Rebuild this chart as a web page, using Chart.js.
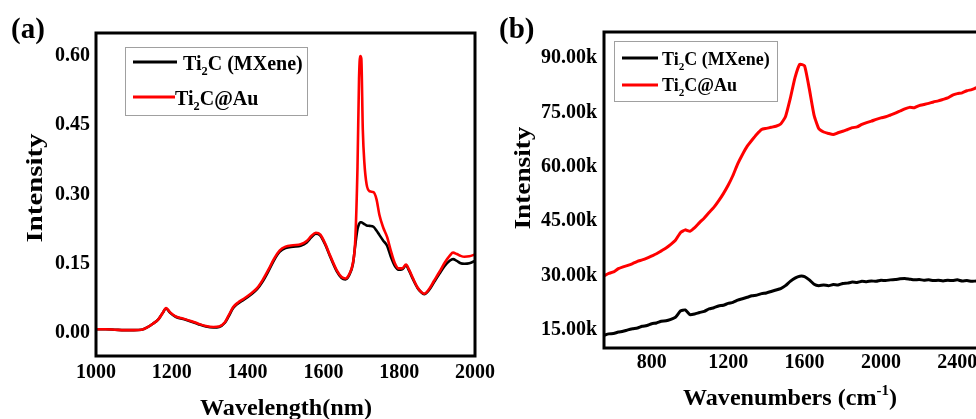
<!DOCTYPE html>
<html>
<head>
<meta charset="utf-8">
<script src="https://cdn.jsdelivr.net/npm/chart.js@4.4.1/dist/chart.umd.min.js"></script>
<style>
html, body { margin: 0; padding: 0; background: #fff; overflow: hidden; width: 976px; height: 419px; }
#chartA { position: absolute; left: 0; top: 0; }
#chartB { position: absolute; left: 490px; top: 0; }
</style>
</head>
<body>
<canvas id="chartA" width="510" height="419"></canvas>
<canvas id="chartB" width="510" height="419"></canvas>
<script>
// ---- panel (a): absorbance vs wavelength ----
const wavelength = [1000, 1025, 1050, 1075, 1100, 1120, 1135, 1150, 1165, 1175, 1185, 1195, 1210, 1230, 1250, 1270, 1290, 1310, 1325, 1340,
  1350, 1362, 1375, 1390, 1410, 1425, 1440, 1455, 1470, 1485, 1500, 1520, 1540, 1556, 1568, 1580, 1592, 1605, 1618, 1635,
  1648, 1658, 1668, 1678, 1684, 1690, 1694, 1697, 1700, 1704, 1708, 1714, 1722, 1732, 1740, 1748, 1758, 1768, 1778, 1788,
  1798, 1808, 1818, 1826, 1836, 1848, 1858, 1866, 1878, 1892, 1906, 1920, 1934, 1942, 1952, 1962, 1972, 1985, 2000];
const mxeneA = [0.008, 0.008, 0.007, 0.006, 0.006, 0.007, 0.012, 0.020, 0.030, 0.042, 0.053, 0.044, 0.035, 0.030, 0.025, 0.019, 0.014, 0.012, 0.013, 0.022,
  0.036, 0.054, 0.064, 0.072, 0.084, 0.095, 0.112, 0.134, 0.158, 0.176, 0.184, 0.187, 0.189, 0.196, 0.207, 0.215, 0.211, 0.191, 0.165, 0.134,
  0.119, 0.116, 0.125, 0.150, 0.190, 0.225, 0.236, 0.240, 0.240, 0.238, 0.236, 0.233, 0.232, 0.230, 0.222, 0.212, 0.200, 0.189, 0.165, 0.146,
  0.137, 0.138, 0.146, 0.135, 0.117, 0.098, 0.088, 0.084, 0.092, 0.110, 0.128, 0.145, 0.157, 0.160, 0.156, 0.151, 0.150, 0.151, 0.156];
const goldA = [0.008, 0.008, 0.007, 0.006, 0.006, 0.007, 0.012, 0.020, 0.030, 0.042, 0.054, 0.045, 0.036, 0.031, 0.026, 0.020, 0.015, 0.013, 0.014, 0.023,
  0.038, 0.056, 0.066, 0.074, 0.086, 0.097, 0.115, 0.137, 0.161, 0.179, 0.187, 0.190, 0.192, 0.199, 0.210, 0.217, 0.213, 0.193, 0.167, 0.136,
  0.121, 0.118, 0.127, 0.152, 0.200, 0.360, 0.550, 0.600, 0.595, 0.440, 0.370, 0.322, 0.307, 0.305, 0.290, 0.255, 0.228, 0.208, 0.178, 0.152,
  0.140, 0.140, 0.148, 0.137, 0.119, 0.099, 0.089, 0.085, 0.094, 0.113, 0.132, 0.152, 0.168, 0.174, 0.171, 0.167, 0.165, 0.166, 0.170];
const xTicksA = [1000, 1200, 1400, 1600, 1800, 2000];
const yTicksA = [0.00, 0.15, 0.30, 0.45, 0.60];

// ---- panel (b): Raman intensity vs wavenumber ----
const wavenumber = [550, 575, 600, 625, 650, 675, 700, 725, 750, 775, 800, 825, 850, 875, 900, 925, 950, 975, 1000, 1025,
  1050, 1075, 1100, 1125, 1150, 1175, 1200, 1225, 1250, 1275, 1300, 1325, 1350, 1375, 1400, 1425, 1450, 1475, 1500, 1525,
  1550, 1575, 1600, 1625, 1650, 1675, 1700, 1725, 1750, 1775, 1800, 1825, 1850, 1875, 1900, 1925, 1950, 1975, 2000, 2025,
  2050, 2075, 2100, 2125, 2150, 2175, 2200, 2225, 2250, 2275, 2300, 2325, 2350, 2375, 2400, 2425, 2450, 2475, 2500, 2525, 2550];
const mxeneB = [13500, 13900, 14000, 14400, 14600, 15000, 15300, 15500, 16000, 16200, 16700, 16900, 17400, 17500, 17900, 18500, 20200, 20500, 19200, 19400,
  19800, 20100, 20800, 21100, 21600, 21800, 22300, 22600, 23200, 23600, 24000, 24400, 24600, 25000, 25200, 25600, 26000, 26400, 27200, 28400,
  29300, 29800, 29700, 28800, 27600, 27200, 27400, 27200, 27500, 27400, 27800, 27900, 28200, 28100, 28400, 28300, 28500, 28400, 28700, 28600,
  28800, 28900, 29100, 29200, 29000, 28800, 28900, 28700, 28800, 28600, 28700, 28500, 28700, 28600, 28800, 28500, 28600, 28400, 28500, 28400, 28500];
const goldB = [29900, 30600, 31000, 31900, 32400, 32800, 33300, 33900, 34300, 34800, 35400, 36000, 36800, 37600, 38600, 39800, 41800, 42600, 42200, 43200,
  44600, 45900, 47400, 48800, 50600, 52600, 54900, 57600, 60800, 63400, 65700, 67400, 69000, 70300, 70600, 70900, 71200, 71800, 73800, 78800,
  84600, 88300, 87900, 81500, 74200, 70500, 69600, 69200, 68900, 69400, 69800, 70300, 70800, 71000, 71700, 72200, 72600, 73100, 73500, 73800,
  74300, 74800, 75400, 76000, 76400, 76300, 76900, 77200, 77500, 77900, 78200, 78600, 79000, 79800, 80200, 80400, 81000, 81300, 81800, 82000, 82400];
const xTicksB = [800, 1200, 1600, 2000, 2400];
const yTicksB = [15000, 30000, 45000, 60000, 75000, 90000];

const SERIF = "'Liberation Serif', 'Times New Roman', serif";
const tickFont = { family: SERIF, weight: 'bold', size: 20 };

function pts(xs, ys) {
  return xs.map((x, i) => ({ x: x, y: ys[i] }));
}

// text with sub/superscripts, left aligned at x, baseline y
function richWidth(ctx, parts, size) {
  let w = 0;
  for (const [t, k] of parts) {
    ctx.font = `bold ${k ? size * 0.62 : size}px ${SERIF}`;
    w += ctx.measureText(t).width;
  }
  return w;
}
function richText(ctx, parts, x, y, size) {
  ctx.textBaseline = 'alphabetic';
  ctx.textAlign = 'left';
  for (const [t, k] of parts) {
    const s = k ? size * 0.62 : size;
    ctx.font = `bold ${s}px ${SERIF}`;
    const dy = k === 'sub' ? size * 0.25 : k === 'sup' ? -size * 0.42 : 0;
    ctx.fillText(t, x, y + dy);
    x += ctx.measureText(t).width;
  }
}
// centered text, stretched along its direction to a target length
function stretchedText(ctx, parts, cx, cy, size, length, rot) {
  ctx.save();
  ctx.translate(cx, cy);
  if (rot) ctx.rotate(rot);
  const w = richWidth(ctx, parts, size);
  ctx.scale(length / w, 1);
  richText(ctx, parts, -w / 2, size * 0.33, size);
  ctx.restore();
}

const decor = {
  id: 'decor',
  afterDraw(chart, args, o) {
    const { ctx, chartArea: a } = chart;
    ctx.save();
    ctx.fillStyle = '#000';
    // frame
    ctx.strokeStyle = '#000';
    ctx.lineWidth = 3;
    ctx.strokeRect(a.left, a.top, a.right - a.left, a.bottom - a.top);
    // panel letter
    ctx.font = `bold 29px ${SERIF}`;
    ctx.textAlign = 'left';
    ctx.textBaseline = 'alphabetic';
    ctx.fillText(o.letter, o.letterX, 38);
    // axis titles
    stretchedText(ctx, o.xTitle, o.xTitleAt[0], o.xTitleAt[1], 23, o.xTitleLen, 0);
    stretchedText(ctx, [['Intensity']], o.yTitleAt[0], o.yTitleAt[1], 23, o.yTitleLen, -Math.PI / 2);
    // legend
    const L = o.legend;
    ctx.fillStyle = '#fff';
    ctx.fillRect(L.box[0], L.box[1], L.box[2], L.box[3]);
    ctx.strokeStyle = '#a0a0a0';
    ctx.lineWidth = 1;
    ctx.strokeRect(L.box[0] + 0.5, L.box[1] + 0.5, L.box[2], L.box[3]);
    L.items.forEach(it => {
      ctx.strokeStyle = it.color;
      ctx.lineWidth = 3;
      ctx.beginPath();
      ctx.moveTo(it.line[0], it.line[2]);
      ctx.lineTo(it.line[1], it.line[2]);
      ctx.stroke();
      ctx.fillStyle = '#000';
      richText(ctx, it.text, it.textAt[0], it.textAt[1], L.size);
    });
    ctx.restore();
  }
};

function scales(xMin, xMax, xTicks, yMin, yMax, yTicks, fmt, yW, xH, yPad, xPad) {
  return {
    x: {
      type: 'linear', min: xMin, max: xMax,
      grid: { display: false, drawTicks: false },
      border: { display: false },
      afterBuildTicks: s => { s.ticks = xTicks.map(v => ({ value: v })); },
      afterFit: s => { s.height = xH; },
      ticks: { font: tickFont, color: '#000', padding: xPad, maxRotation: 0, callback: v => String(v) }
    },
    y: {
      type: 'linear', min: yMin, max: yMax,
      grid: { display: false, drawTicks: false },
      border: { display: false },
      afterBuildTicks: s => { s.ticks = yTicks.map(v => ({ value: v })); },
      afterFit: s => { s.width = yW; },
      ticks: { font: tickFont, color: '#000', padding: yPad, callback: fmt }
    }
  };
}

new Chart(document.getElementById('chartA'), {
  type: 'line',
  data: {
    datasets: [
      { label: 'Ti2C@Au', data: pts(wavelength, goldA), borderColor: '#ff0000', borderWidth: 2.6, pointRadius: 0, cubicInterpolationMode: 'monotone', order: 0 },
      { label: 'Ti2C (MXene)', data: pts(wavelength, mxeneA), borderColor: '#000000', borderWidth: 2.6, pointRadius: 0, cubicInterpolationMode: 'monotone', order: 1 }
    ]
  },
  options: {
    responsive: false,
    animation: false,
    layout: { padding: { top: 33, right: 35, left: 0, bottom: 0 } },
    scales: scales(1000, 2000, xTicksA, -0.05, 0.65, yTicksA, v => v.toFixed(2), 96, 63, 6, 5),
    plugins: {
      legend: { display: false },
      tooltip: { enabled: false },
      decor: {
        letter: '(a)', letterX: 11,
        xTitle: [['Wavelength(nm)']], xTitleAt: [286, 407], xTitleLen: 172,
        yTitleAt: [34, 188], yTitleLen: 109,
        legend: {
          box: [125, 47, 182, 68], size: 20,
          items: [
            { color: '#000', line: [133, 177, 62], text: [['Ti'], ['2', 'sub'], ['C (MXene)']], textAt: [183, 70] },
            { color: '#ff0000', line: [133, 175, 97], text: [['Ti'], ['2', 'sub'], ['C@Au']], textAt: [175, 105] }
          ]
        }
      }
    }
  },
  plugins: [decor]
});

new Chart(document.getElementById('chartB'), {
  type: 'line',
  data: {
    datasets: [
      { label: 'Ti2C (MXene)', data: pts(wavenumber, mxeneB), borderColor: '#000000', borderWidth: 3, pointRadius: 0, tension: 0.15 },
      { label: 'Ti2C@Au', data: pts(wavenumber, goldB), borderColor: '#ff0000', borderWidth: 3, pointRadius: 0, tension: 0.15 }
    ]
  },
  options: {
    responsive: false,
    animation: false,
    layout: { padding: { top: 32, right: 14, left: 0, bottom: 0 } },
    scales: scales(550, 2550, xTicksB, 10000, 97200, yTicksB, v => (v / 1000).toFixed(2) + 'k', 114, 71, 7, 3),
    plugins: {
      legend: { display: false },
      tooltip: { enabled: false },
      decor: {
        letter: '(b)', letterX: 9,
        xTitle: [['Wavenumbers (cm'], ['-1', 'sup'], [')']], xTitleAt: [300, 397], xTitleLen: 214,
        yTitleAt: [32, 178], yTitleLen: 103,
        legend: {
          box: [124, 41, 163, 60], size: 18,
          items: [
            { color: '#000', line: [132, 168, 58], text: [['Ti'], ['2', 'sub'], ['C (MXene)']], textAt: [172, 65] },
            { color: '#ff0000', line: [132, 168, 85], text: [['Ti'], ['2', 'sub'], ['C@Au']], textAt: [172, 91] }
          ]
        }
      }
    }
  },
  plugins: [decor]
});
</script>
</body>
</html>
